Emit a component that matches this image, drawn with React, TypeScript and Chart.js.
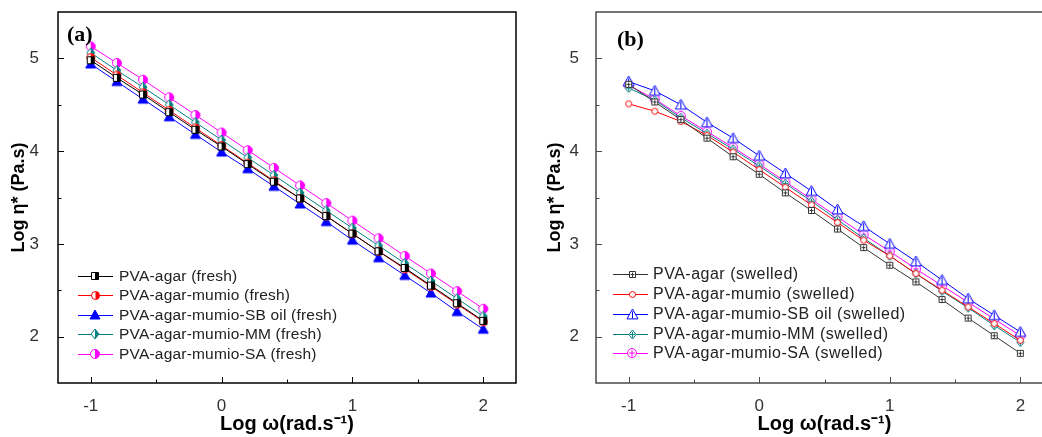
import React, { useEffect, useRef } from "react";
import { Chart, registerables } from "chart.js";
Chart.register(...registerables);

// ---- data ----
const LOG_OMEGA = [-1, -0.8, -0.6, -0.4, -0.2, 0, 0.2, 0.4, 0.6, 0.8, 1, 1.2, 1.4, 1.6, 1.8, 2];
const X_TICKS = [-1, 0, 1, 2];
const X_MINOR = [-0.5, 0.5, 1.5];
const Y_TICKS = [2, 3, 4, 5];
const Y_MINOR = [2.5, 3.5, 4.5];

const FRESH_LABELS = [
  "PVA-agar (fresh)",
  "PVA-agar-mumio (fresh)",
  "PVA-agar-mumio-SB oil (fresh)",
  "PVA-agar-mumio-MM (fresh)",
  "PVA-agar-mumio-SA (fresh)",
];
const SWELLED_LABELS = [
  "PVA-agar (swelled)",
  "PVA-agar-mumio (swelled)",
  "PVA-agar-mumio-SB oil (swelled)",
  "PVA-agar-mumio-MM (swelled)",
  "PVA-agar-mumio-SA (swelled)",
];

const FRESH_AGAR = [4.98, 4.79, 4.61, 4.42, 4.23, 4.05, 3.86, 3.67, 3.49, 3.30, 3.11, 2.92, 2.74, 2.55, 2.36, 2.17];
const FRESH_MUMIO = [5.01, 4.82, 4.63, 4.44, 4.25, 4.06, 3.87, 3.68, 3.49, 3.30, 3.11, 2.92, 2.73, 2.54, 2.35, 2.16];
const FRESH_SB = [4.94, 4.75, 4.56, 4.37, 4.18, 3.99, 3.81, 3.62, 3.43, 3.24, 3.04, 2.85, 2.66, 2.47, 2.27, 2.08];
const FRESH_MM = [5.06, 4.87, 4.69, 4.50, 4.31, 4.12, 3.93, 3.74, 3.55, 3.36, 3.17, 2.98, 2.79, 2.60, 2.41, 2.22];
const FRESH_SA = [5.13, 4.95, 4.77, 4.58, 4.39, 4.20, 4.01, 3.82, 3.63, 3.44, 3.25, 3.06, 2.87, 2.68, 2.49, 2.30];

const SWELLED_AGAR = [4.72, 4.53, 4.34, 4.14, 3.94, 3.75, 3.55, 3.36, 3.16, 2.96, 2.77, 2.59, 2.40, 2.20, 2.01, 1.82];
const SWELLED_MUMIO = [4.51, 4.43, 4.32, 4.17, 3.99, 3.80, 3.61, 3.42, 3.23, 3.04, 2.87, 2.68, 2.50, 2.32, 2.14, 1.96];
const SWELLED_SB = [4.75, 4.65, 4.50, 4.31, 4.14, 3.95, 3.76, 3.57, 3.37, 3.19, 3.00, 2.81, 2.61, 2.41, 2.23, 2.05];
const SWELLED_MM = [4.68, 4.55, 4.36, 4.19, 4.02, 3.84, 3.65, 3.46, 3.26, 3.06, 2.87, 2.68, 2.49, 2.31, 2.12, 1.94];
const SWELLED_SA = [4.71, 4.56, 4.38, 4.21, 4.04, 3.86, 3.67, 3.48, 3.29, 3.10, 2.92, 2.73, 2.55, 2.37, 2.19, 2.01];

const COLORS_A = ["#000000", "#ff0000", "#0000ff", "#008080", "#ff00ff"];
const COLORS_B = ["#333333", "#ff0000", "#0000ff", "#008080", "#ff00ff"];

type Shape = "square" | "circle" | "triangle" | "diamond";
type Mode = "half" | "full" | "open" | "cross" | "vline";

function makeMarker(shape: Shape, color: string, mode: Mode, size: number): HTMLCanvasElement {
  const pad = 2;
  const dim = Math.ceil(size + pad * 2);
  const c = document.createElement("canvas");
  c.width = dim;
  c.height = dim;
  const g = c.getContext("2d")!;
  const cx = dim / 2;
  const cy = dim / 2;
  const r = size / 2;
  const path = () => {
    g.beginPath();
    if (shape === "square") {
      g.rect(cx - r + 0.5, cy - r + 0.5, size - 1, size - 1);
    } else if (shape === "circle") {
      g.arc(cx, cy, r - 0.5, 0, Math.PI * 2);
    } else if (shape === "triangle") {
      g.moveTo(cx, cy - r);
      g.lineTo(cx + r, cy + r * 0.8);
      g.lineTo(cx - r, cy + r * 0.8);
      g.closePath();
    } else {
      g.moveTo(cx, cy - r);
      g.lineTo(cx + r * 0.8, cy);
      g.lineTo(cx, cy + r);
      g.lineTo(cx - r * 0.8, cy);
      g.closePath();
    }
  };
  g.lineWidth = 1;
  path();
  g.fillStyle = "#ffffff";
  g.fill();
  if (mode === "full") {
    path();
    g.fillStyle = color;
    g.fill();
  }
  if (mode === "half") {
    g.save();
    path();
    g.clip();
    g.fillStyle = color;
    g.fillRect(cx, 0, dim, dim);
    g.restore();
  }
  path();
  g.strokeStyle = color;
  g.stroke();
  if (mode === "cross" || mode === "vline") {
    g.beginPath();
    if (mode === "cross") {
      g.moveTo(cx - r * 0.55, cy);
      g.lineTo(cx + r * 0.55, cy);
    }
    g.moveTo(cx, cy - r * 0.55);
    g.lineTo(cx, cy + r * 0.7);
    g.stroke();
  }
  return c;
}

interface PanelSpec {
  letter: string;
  letterX: number;
  letterY: number;
  labels: string[];
  series: number[][];
  colors: string[];
  markers: [Shape, Mode, number][];
  frameColor: string;
  yWidth: number;
  yTitlePad: number;
  yTickPad: number;
  padRight: number;
  legendLineX0: number;
  legendLineX1: number;
  legendMarkerX: number;
  legendTextX: number;
  legendRows: number[];
  legendFont: string;
  legendSpacing: string;
}

const PANEL_A: PanelSpec = {
  letter: "(a)",
  letterX: 67,
  letterY: 41,
  labels: FRESH_LABELS,
  series: [FRESH_AGAR, FRESH_MUMIO, FRESH_SB, FRESH_MM, FRESH_SA],
  colors: COLORS_A,
  markers: [
    ["square", "half", 8],
    ["circle", "half", 9],
    ["triangle", "full", 10],
    ["diamond", "half", 10],
    ["circle", "half", 10],
  ],
  frameColor: "#000000",
  yWidth: 58,
  yTitlePad: 8,
  yTickPad: 11,
  padRight: 24,
  legendLineX0: 78,
  legendLineX1: 113,
  legendMarkerX: 95,
  legendTextX: 119,
  legendRows: [276, 295, 315, 334, 354],
  legendFont: '15.5px "Liberation Sans"',
  legendSpacing: "0.2px",
};

const PANEL_B: PanelSpec = {
  letter: "(b)",
  letterX: 86,
  letterY: 46,
  labels: SWELLED_LABELS,
  series: [SWELLED_AGAR, SWELLED_MUMIO, SWELLED_SB, SWELLED_MM, SWELLED_SA],
  colors: COLORS_B,
  markers: [
    ["square", "cross", 7],
    ["circle", "open", 7],
    ["triangle", "vline", 11],
    ["diamond", "cross", 9],
    ["circle", "cross", 10],
  ],
  frameColor: "#4a4a4a",
  yWidth: 65,
  yTitlePad: 13,
  yTickPad: 9,
  padRight: 20,
  legendLineX0: 82,
  legendLineX1: 117,
  legendMarkerX: 101,
  legendTextX: 122,
  legendRows: [274, 294, 314, 334, 353],
  legendFont: '16px "Liberation Sans"',
  legendSpacing: "0.5px",
};

function buildChart(canvas: HTMLCanvasElement, p: PanelSpec) {
  const markerImgs = p.markers.map((m, i) => makeMarker(m[0], p.colors[i], m[1], m[2]));

  const decor = {
    id: "decor",
    afterDraw(chart: any) {
      const { ctx, chartArea } = chart;
      const { left, right, top, bottom } = chartArea;
      const xs = chart.scales.x;
      const ys = chart.scales.y;
      ctx.save();
      ctx.strokeStyle = p.frameColor;
      ctx.lineWidth = 1.5;
      ctx.strokeRect(left, top, right - left, bottom - top);
      ctx.lineWidth = 1;
      ctx.beginPath();
      X_TICKS.forEach((v) => {
        const px = Math.round(xs.getPixelForValue(v)) + 0.5;
        ctx.moveTo(px, bottom);
        ctx.lineTo(px, bottom - 6);
      });
      X_MINOR.forEach((v) => {
        const px = Math.round(xs.getPixelForValue(v)) + 0.5;
        ctx.moveTo(px, bottom);
        ctx.lineTo(px, bottom - 3.5);
      });
      Y_TICKS.forEach((v) => {
        const py = Math.round(ys.getPixelForValue(v)) + 0.5;
        ctx.moveTo(left, py);
        ctx.lineTo(left + 6, py);
      });
      Y_MINOR.forEach((v) => {
        const py = Math.round(ys.getPixelForValue(v)) + 0.5;
        ctx.moveTo(left, py);
        ctx.lineTo(left + 3.5, py);
      });
      ctx.stroke();

      // panel letter
      ctx.fillStyle = "#000";
      ctx.font = 'bold 22px "Liberation Serif"';
      ctx.textBaseline = "alphabetic";
      ctx.textAlign = "left";
      ctx.fillText(p.letter, p.letterX, p.letterY);

      // legend
      ctx.font = p.legendFont;
      (ctx as any).letterSpacing = p.legendSpacing;
      ctx.textBaseline = "middle";
      p.labels.forEach((lab, i) => {
        const y = p.legendRows[i];
        ctx.strokeStyle = p.colors[i];
        ctx.lineWidth = 1;
        ctx.beginPath();
        ctx.moveTo(p.legendLineX0, y + 0.5);
        ctx.lineTo(p.legendLineX1, y + 0.5);
        ctx.stroke();
        const img = markerImgs[i];
        ctx.drawImage(img, Math.round(p.legendMarkerX - img.width / 2), Math.round(y - img.height / 2));
        ctx.fillStyle = "#222";
        ctx.fillText(lab, p.legendTextX, y + 1);
      });
      ctx.restore();
    },
  };

  return new Chart(canvas, {
    type: "line",
    data: {
      datasets: p.series.map((s, i) => ({
        label: p.labels[i],
        data: LOG_OMEGA.map((x, j) => ({ x, y: s[j] })),
        borderColor: p.colors[i],
        backgroundColor: p.colors[i],
        borderWidth: 1,
        tension: 0,
        pointStyle: markerImgs[i] as any,
        pointRadius: 4,
      })),
    },
    options: {
      responsive: false,
      animation: false,
      devicePixelRatio: 1,
      layout: { padding: { top: 12, right: p.padRight, bottom: 0, left: 0 } },
      plugins: { legend: { display: false }, tooltip: { enabled: false } },
      scales: {
        x: {
          type: "linear",
          min: -1.25,
          max: 2.25,
          grid: { display: false },
          border: { display: false },
          afterBuildTicks: (s: any) => {
            s.ticks = X_TICKS.map((v) => ({ value: v }));
          },
          afterFit: (s: any) => {
            s.height = 54;
            s.paddingLeft = 0;
            s.paddingRight = 0;
          },
          ticks: {
            padding: 5,
            color: "#333",
            font: { family: "Liberation Sans", size: 17 },
            callback: (v: any) => String(v),
          },
          title: {
            display: true,
            text: "Log ω(rad.s⁻¹)",
            color: "#000",
            font: { family: "Liberation Sans", size: 20, weight: "bold" },
            padding: { top: 0, bottom: 1 },
          },
        },
        y: {
          type: "linear",
          min: 1.5,
          max: 5.5,
          grid: { display: false },
          border: { display: false },
          afterBuildTicks: (s: any) => {
            s.ticks = Y_TICKS.map((v) => ({ value: v }));
          },
          afterFit: (s: any) => {
            s.width = p.yWidth;
            s.paddingTop = 0;
            s.paddingBottom = 0;
          },
          ticks: {
            padding: p.yTickPad,
            color: "#333",
            font: { family: "Liberation Sans", size: 17 },
            callback: (v: any) => String(v),
          },
          title: {
            display: true,
            text: "Log η* (Pa.s)",
            color: "#000",
            font: { family: "Liberation Sans", size: 18, weight: "bold" },
            padding: { top: p.yTitlePad, bottom: 0 },
          },
        },
      },
    },
    plugins: [decor],
  } as any);
}

export default function App() {
  const refA = useRef<HTMLCanvasElement>(null);
  const refB = useRef<HTMLCanvasElement>(null);
  useEffect(() => {
    const a = buildChart(refA.current!, PANEL_A);
    const b = buildChart(refB.current!, PANEL_B);
    return () => {
      a.destroy();
      b.destroy();
    };
  }, []);
  return (
    <div
      style={{
        position: "fixed",
        left: 0,
        top: 0,
        width: 1042,
        height: 437,
        overflow: "hidden",
        background: "#fff",
      }}
    >
      <canvas ref={refA} width={540} height={437} style={{ position: "absolute", left: 0, top: 0 }} />
      <canvas ref={refB} width={542} height={437} style={{ position: "absolute", left: 531, top: 0 }} />
    </div>
  );
}
